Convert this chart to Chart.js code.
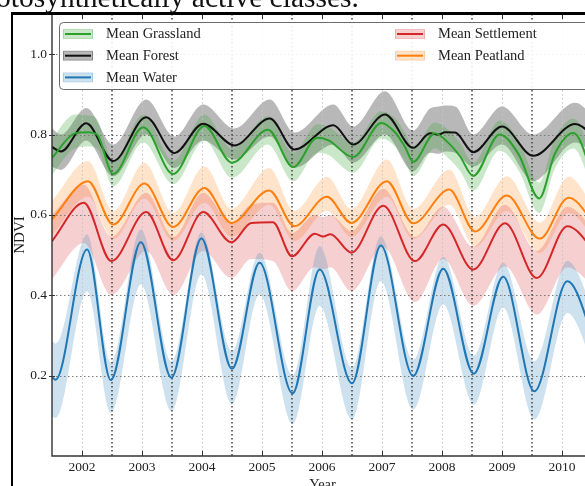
<!DOCTYPE html>
<html>
<head>
<meta charset="utf-8">
<script src="https://cdn.jsdelivr.net/npm/chart.js@4.4.1/dist/chart.umd.min.js"></script>
<style>
  html, body { margin: 0; padding: 0; background: #fff; }
  #wrap { position: relative; width: 585px; height: 486px; overflow: hidden; background: #fff; }
  #cv { position: absolute; left: 0; top: 0; }
  #caption { position: absolute; left: -4px; top: -18px; font: 29.5px "Liberation Serif", serif; line-height: 30px; color: #111; white-space: nowrap; }
  #frame { position: absolute; left: 11px; top: 12px; width: 620px; height: 520px; border-left: 2.5px solid #000; border-top: 3px solid #000; pointer-events: none; }
</style>
</head>
<body>
<div id="wrap">
  <canvas id="cv" width="595" height="500"></canvas>
  <div id="caption">otosynthetically active classes.</div>
  <div id="frame"></div>
</div>
<script>
// Axis labels
const yearLabels = ['2002', '2003', '2004', '2005', '2006', '2007', '2008', '2009', '2010'];
const ndviTicks = [0.2, 0.4, 0.6, 0.8, 1.0];

// Mean Grassland: decimal year, mean NDVI and the shaded range
const grassT    = [2002.0, 2002.38, 2002.6, 2002.75, 2003.02, 2003.52, 2004.02, 2004.54, 2005.0, 2005.6, 2006.02, 2006.42, 2006.6, 2007.02, 2007.49, 2007.72, 2007.88, 2008.02, 2008.38, 2008.58, 2008.8, 2009.02, 2009.46, 2009.78, 2010.12, 2010.38, 2010.69, 2011.1];
const grassMean = [0.742, 0.803, 0.806, 0.800, 0.702, 0.818, 0.702, 0.821, 0.730, 0.812, 0.719, 0.792, 0.786, 0.744, 0.829, 0.805, 0.770, 0.732, 0.803, 0.783, 0.746, 0.697, 0.800, 0.750, 0.641, 0.752, 0.804, 0.655];
const grassLo   = [0.700, 0.765, 0.770, 0.765, 0.671, 0.780, 0.676, 0.785, 0.692, 0.775, 0.684, 0.755, 0.750, 0.705, 0.790, 0.770, 0.735, 0.696, 0.765, 0.745, 0.710, 0.660, 0.760, 0.710, 0.605, 0.715, 0.765, 0.615];
const grassHi   = [0.790, 0.850, 0.848, 0.838, 0.735, 0.850, 0.735, 0.850, 0.765, 0.845, 0.755, 0.825, 0.820, 0.780, 0.858, 0.840, 0.805, 0.768, 0.830, 0.815, 0.780, 0.730, 0.835, 0.785, 0.680, 0.790, 0.840, 0.700];

// Mean Forest
const forestT    = [2002.0, 2002.15, 2002.57, 2003.02, 2003.57, 2004.04, 2004.52, 2005.04, 2005.63, 2006.04, 2006.69, 2007.02, 2007.55, 2008.02, 2008.3, 2008.45, 2008.55, 2008.72, 2009.02, 2009.5, 2010.02, 2010.72, 2011.1];
const forestMean = [0.769, 0.758, 0.828, 0.734, 0.843, 0.754, 0.827, 0.773, 0.840, 0.763, 0.823, 0.775, 0.850, 0.767, 0.803, 0.800, 0.806, 0.805, 0.756, 0.820, 0.747, 0.826, 0.786];
const forestLo   = [0.720, 0.712, 0.785, 0.696, 0.800, 0.717, 0.785, 0.738, 0.795, 0.717, 0.775, 0.730, 0.800, 0.709, 0.755, 0.752, 0.758, 0.755, 0.720, 0.775, 0.684, 0.780, 0.740];
const forestHi   = [0.815, 0.800, 0.866, 0.775, 0.887, 0.795, 0.875, 0.815, 0.887, 0.805, 0.875, 0.820, 0.908, 0.810, 0.865, 0.870, 0.872, 0.870, 0.800, 0.870, 0.800, 0.879, 0.830];

// Mean Water
const waterT    = [2002.0, 2002.06, 2002.585, 2002.98, 2003.48, 2003.99, 2004.49, 2005.0, 2005.46, 2006.01, 2006.46, 2007.0, 2007.48, 2008.02, 2008.52, 2009.03, 2009.52, 2010.04, 2010.59, 2011.1];
const waterMean = [0.196, 0.190, 0.514, 0.189, 0.532, 0.195, 0.541, 0.217, 0.481, 0.156, 0.464, 0.181, 0.524, 0.199, 0.466, 0.205, 0.446, 0.161, 0.435, 0.260];
const waterLo   = [0.099, 0.095, 0.410, 0.108, 0.427, 0.112, 0.452, 0.128, 0.402, 0.079, 0.373, 0.091, 0.435, 0.116, 0.377, 0.128, 0.369, 0.091, 0.356, 0.190];
const waterHi   = [0.286, 0.280, 0.551, 0.233, 0.564, 0.235, 0.556, 0.260, 0.506, 0.200, 0.522, 0.220, 0.547, 0.240, 0.496, 0.250, 0.481, 0.236, 0.485, 0.330];

// Mean Settlement
const settleT    = [2002.0, 2002.53, 2002.99, 2003.57, 2004.02, 2004.52, 2004.99, 2005.32, 2005.68, 2006.0, 2006.38, 2006.52, 2006.64, 2006.99, 2007.52, 2008.05, 2008.52, 2009.02, 2009.55, 2010.08, 2010.59, 2011.1];
const settleMean = [0.535, 0.630, 0.485, 0.607, 0.487, 0.607, 0.532, 0.580, 0.582, 0.497, 0.553, 0.546, 0.552, 0.506, 0.623, 0.485, 0.576, 0.464, 0.579, 0.443, 0.572, 0.500];
const settleLo   = [0.440, 0.530, 0.400, 0.510, 0.400, 0.510, 0.443, 0.490, 0.485, 0.410, 0.470, 0.465, 0.470, 0.410, 0.520, 0.383, 0.490, 0.373, 0.472, 0.352, 0.470, 0.410];
const settleHi   = [0.600, 0.675, 0.545, 0.655, 0.545, 0.655, 0.580, 0.625, 0.630, 0.555, 0.600, 0.595, 0.600, 0.560, 0.665, 0.545, 0.620, 0.520, 0.625, 0.510, 0.620, 0.550];

// Mean Peatland
const peatT    = [2002.0, 2002.6, 2003.02, 2003.54, 2004.02, 2004.54, 2004.99, 2005.62, 2006.04, 2006.58, 2006.99, 2007.58, 2008.02, 2008.62, 2009.05, 2009.58, 2010.13, 2010.61, 2011.1];
const peatMean = [0.589, 0.684, 0.576, 0.678, 0.570, 0.667, 0.580, 0.661, 0.572, 0.645, 0.580, 0.684, 0.579, 0.663, 0.559, 0.648, 0.541, 0.643, 0.565];
const peatLo   = [0.550, 0.645, 0.540, 0.640, 0.535, 0.630, 0.545, 0.625, 0.535, 0.610, 0.545, 0.645, 0.540, 0.625, 0.520, 0.610, 0.505, 0.605, 0.530];
const peatHi   = [0.635, 0.734, 0.610, 0.730, 0.605, 0.721, 0.615, 0.717, 0.610, 0.695, 0.615, 0.738, 0.615, 0.713, 0.595, 0.696, 0.580, 0.695, 0.600];

const series = [
  { name: 'Mean Water',      line: '#1f77b4', band: 'rgba(31,119,180,0.22)', t: waterT,  mean: waterMean,  lo: waterLo,  hi: waterHi },
  { name: 'Mean Settlement', line: '#d62728', band: 'rgba(214,39,40,0.22)',  t: settleT, mean: settleMean, lo: settleLo, hi: settleHi },
  { name: 'Mean Peatland',   line: '#ff7f0e', band: 'rgba(255,127,14,0.22)', t: peatT,   mean: peatMean,   lo: peatLo,   hi: peatHi },
  { name: 'Mean Grassland',  line: '#2ca02c', band: 'rgba(44,160,44,0.25)',  t: grassT,  mean: grassMean,  lo: grassLo,  hi: grassHi },
  { name: 'Mean Forest',     line: '#111111', band: 'rgba(0,0,0,0.28)',      t: forestT, mean: forestMean, lo: forestLo, hi: forestHi }
];
const byName = Object.fromEntries(series.map(s => [s.name, s]));
const legendColumns = [['Mean Grassland', 'Mean Forest', 'Mean Water'], ['Mean Settlement', 'Mean Peatland']];

const pts = (t, v) => t.map((x, i) => ({ x, y: v[i] }));
const datasets = [];
series.forEach(s => {
  const loIndex = datasets.length;
  datasets.push({ data: pts(s.t, s.lo), borderColor: 'rgba(0,0,0,0)', borderWidth: 0, fill: false, order: 10 });
  datasets.push({ data: pts(s.t, s.hi), borderColor: 'rgba(0,0,0,0)', borderWidth: 0, backgroundColor: s.band, fill: loIndex, order: 10 });
});
series.forEach(s => {
  datasets.push({ label: s.name, data: pts(s.t, s.mean), borderColor: s.line, borderWidth: 2, fill: false, order: 1 });
});

const serif = "'Liberation Serif', 'Times New Roman', serif";
const X_MIN = 2002.0, X_MAX = 2011.0167;

function seg(ctx, x1, y1, x2, y2) {
  ctx.beginPath(); ctx.moveTo(x1, y1); ctx.lineTo(x2, y2); ctx.stroke();
}

const axesDecor = {
  id: 'axesDecor',
  beforeDatasetsDraw(chart) {
    const { ctx, chartArea: a, scales: { x, y } } = chart;
    ctx.save();
    ctx.beginPath(); ctx.rect(a.left, a.top, a.right - a.left, a.bottom - a.top); ctx.clip();
    ctx.setLineDash([1.5, 2.5]);
    ctx.lineWidth = 1;
    ctx.strokeStyle = '#7a7a7a';
    ndviTicks.forEach(v => { const py = Math.round(y.getPixelForValue(v)) + 0.5; seg(ctx, a.left, py, a.right, py); });
    ctx.strokeStyle = '#c4c4c4';
    yearLabels.forEach(l => { const px = Math.round(x.getPixelForValue(Number(l) + 0.5)) + 0.5; seg(ctx, px, a.top, px, a.bottom); });
    ctx.strokeStyle = '#444';
    ctx.lineWidth = 1.5;
    yearLabels.forEach(l => { const px = Math.round(x.getPixelForValue(Number(l) + 1)); seg(ctx, px, a.top, px, a.bottom); });
    ctx.restore();
  },
  afterDatasetsDraw(chart) {
    const { ctx, chartArea: a, scales: { x, y } } = chart;
    ctx.save();
    // spines
    ctx.strokeStyle = '#333';
    ctx.lineWidth = 1.4;
    ctx.beginPath();
    ctx.moveTo(a.right + 20, a.top); ctx.lineTo(a.left, a.top); ctx.lineTo(a.left, a.bottom); ctx.lineTo(a.right + 20, a.bottom);
    ctx.stroke();
    // tick marks
    ctx.lineWidth = 1;
    yearLabels.forEach(l => {
      const px = Math.round(x.getPixelForValue(Number(l) + 0.5)) + 0.5;
      seg(ctx, px, a.bottom, px, a.bottom - 5);
      seg(ctx, px, a.top, px, a.top + 5);
    });
    ndviTicks.forEach(v => {
      const py = Math.round(y.getPixelForValue(v)) + 0.5;
      seg(ctx, a.left - 3, py, a.left + 3, py);
    });
    // legend box inside the plot
    const bx = a.left + 7.5, by = a.top + 8.5, bw = chart.width + 40, bh = 67, r = 4;
    ctx.beginPath();
    ctx.moveTo(bx + r, by); ctx.lineTo(bx + bw, by); ctx.lineTo(bx + bw, by + bh); ctx.lineTo(bx + r, by + bh);
    ctx.arcTo(bx, by + bh, bx, by + bh - r, r); ctx.lineTo(bx, by + r); ctx.arcTo(bx, by, bx + r, by, r);
    ctx.closePath();
    ctx.fillStyle = 'rgba(255,255,255,0.9)';
    ctx.fill();
    ctx.strokeStyle = '#6a6a6a';
    ctx.lineWidth = 1;
    ctx.stroke();
    const colX = [a.left + 11, a.left + 343];
    ctx.font = '14.5px ' + serif;
    ctx.textBaseline = 'middle';
    ctx.textAlign = 'left';
    legendColumns.forEach((col, c) => {
      col.forEach((name, r2) => {
        const s = byName[name];
        const sx = colX[c], sy = by + 11.5 + r2 * 21.7;
        ctx.fillStyle = s.band;
        ctx.fillRect(sx, sy - 4.5, 30, 9);
        ctx.strokeStyle = s.band;
        ctx.strokeRect(sx + 0.5, sy - 4.5, 29, 9);
        ctx.strokeStyle = s.line;
        ctx.lineWidth = 2;
        seg(ctx, sx + 2, sy, sx + 28, sy);
        ctx.lineWidth = 1;
        ctx.fillStyle = '#222';
        ctx.fillText(name, sx + 43, sy + 0.5);
      });
    });
    ctx.restore();
  }
};

new Chart(document.getElementById('cv'), {
  type: 'line',
  data: { datasets },
  options: {
    responsive: false,
    animation: false,
    devicePixelRatio: 1,
    layout: { padding: { top: 14, right: 2, left: 0, bottom: 0 } },
    elements: {
      point: { radius: 0, hoverRadius: 0 },
      line: { cubicInterpolationMode: 'monotone', capBezierPoints: false, borderCapStyle: 'round', borderJoinStyle: 'round' }
    },
    plugins: {
      legend: { display: false },
      tooltip: { enabled: false },
      filler: { drawTime: 'beforeDatasetsDraw', propagate: false }
    },
    scales: {
      x: {
        type: 'linear', min: X_MIN, max: X_MAX,
        grid: { display: false, drawTicks: false }, border: { display: false },
        afterBuildTicks: s => { s.ticks = yearLabels.map(l => ({ value: Number(l) + 0.5 })); },
        afterFit: s => { s.height = 44; },
        ticks: { autoSkip: false, maxRotation: 0, padding: 3, color: '#222', font: { family: serif, size: 13.5 },
                 callback: (v, i) => yearLabels[i] },
        title: { display: true, text: 'Year', color: '#222', font: { family: serif, size: 14.5 }, padding: { top: 0, bottom: 6.5 } }
      },
      y: {
        type: 'linear', min: 0, max: 1.1,
        grid: { display: false, drawTicks: false }, border: { display: false },
        afterBuildTicks: s => { s.ticks = ndviTicks.map(v => ({ value: v })); },
        afterFit: s => { s.width = 52; },
        ticks: { padding: 5, color: '#222', font: { family: serif, size: 13.5 }, callback: v => Number(v).toFixed(1) },
        title: { display: true, text: 'NDVI', color: '#222', font: { family: serif, size: 15 }, padding: { top: 11, bottom: 0 } }
      }
    }
  },
  plugins: [axesDecor]
});
</script>
</body>
</html>
